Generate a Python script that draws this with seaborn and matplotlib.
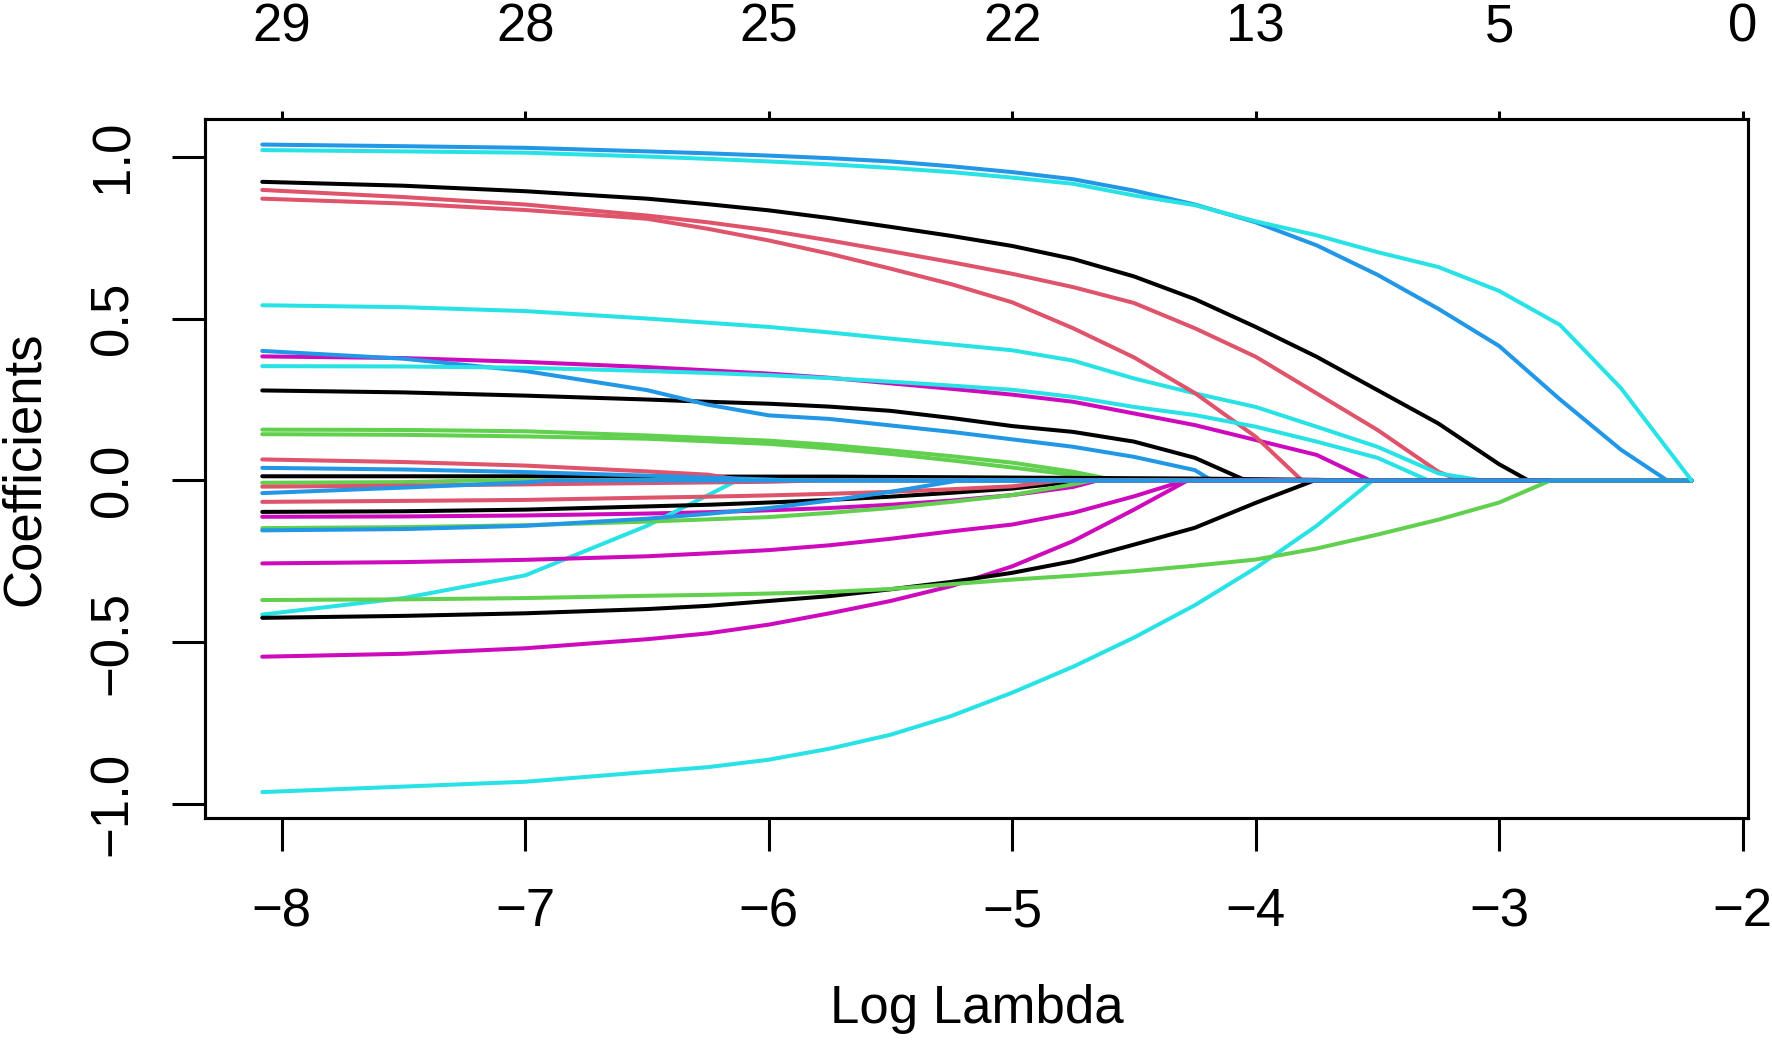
import numpy as np
import pandas as pd
import seaborn as sns
import matplotlib.pyplot as plt

grid = [-8.08, -7.5, -7.0, -6.5, -6.25, -6.0, -5.75, -5.5, -5.25, -5.0,
        -4.75, -4.5, -4.25, -4.0, -3.75, -3.5, -3.25, -3.0, -2.75, -2.5]
last_lambda = -2.21

# each path: values on the grid until the variable drops out; *_zero = where it hits 0
black_paths = [
    [0.922, 0.91, 0.893, 0.87, 0.853, 0.834, 0.81, 0.783, 0.755, 0.724,
     0.684, 0.63, 0.56, 0.474, 0.382, 0.279, 0.176, 0.05],
    [0.278, 0.272, 0.262, 0.25, 0.243, 0.237, 0.228, 0.215, 0.193, 0.168, 0.15, 0.12, 0.07],
    [0.013, 0.013, 0.013, 0.012, 0.012, 0.012, 0.012, 0.011, 0.010, 0.009,
     0.008, 0.007, 0.006, 0.004, 0.002],
    [-0.097, -0.095, -0.09, -0.08, -0.075, -0.068, -0.06, -0.05, -0.038, -0.025],
    [-0.424, -0.418, -0.41, -0.397, -0.387, -0.372, -0.357, -0.336, -0.313, -0.285,
     -0.249, -0.198, -0.146, -0.069],
]
black_zero = [-2.88, -4.04, -3.6, -4.7, -3.76]

red_paths = [
    [0.897, 0.875, 0.852, 0.818, 0.797, 0.772, 0.741, 0.708, 0.674, 0.638,
     0.597, 0.548, 0.47, 0.382, 0.269, 0.156, 0.027],
    [0.870, 0.855, 0.835, 0.808, 0.777, 0.741, 0.70, 0.654, 0.606, 0.55,
     0.47, 0.38, 0.27, 0.135],
    [0.065, 0.057, 0.046, 0.028, 0.018],
    [-0.019, -0.016, -0.012, -0.008, -0.006, -0.004],
    [-0.066, -0.063, -0.06, -0.053, -0.05, -0.046, -0.041, -0.035, -0.027, -0.018],
]
red_zero = [-3.16, -3.81, -6.1, -5.8, -4.8]

green_paths = [
    [0.157, 0.156, 0.152, 0.139, 0.131, 0.123, 0.11, 0.093, 0.075, 0.055, 0.027],
    [0.143, 0.141, 0.136, 0.129, 0.121, 0.113, 0.099, 0.082, 0.062, 0.04, 0.017],
    [-0.007, -0.005],
    [-0.147, -0.144, -0.138, -0.127, -0.12, -0.113, -0.1, -0.085, -0.066, -0.045, -0.012],
    [-0.369, -0.367, -0.363, -0.356, -0.353, -0.349, -0.344, -0.335, -0.32, -0.306,
     -0.294, -0.28, -0.263, -0.244, -0.21, -0.167, -0.121, -0.068],
]
green_zero = [-4.57, -4.66, -7.2, -4.67, -2.79]

blue_paths = [
    [1.037, 1.032, 1.027, 1.016, 1.01, 1.003, 0.995, 0.985, 0.97, 0.952,
     0.93, 0.895, 0.852, 0.797, 0.726, 0.635, 0.53, 0.415, 0.25, 0.095],
    [0.400, 0.376, 0.338, 0.279, 0.234, 0.201, 0.19, 0.17, 0.15, 0.127, 0.104, 0.073, 0.032],
    [0.039, 0.034, 0.026, 0.015, 0.009, 0.003],
    [-0.039, -0.022, -0.006],
    [-0.154, -0.15, -0.14, -0.118, -0.103, -0.085, -0.062, -0.035],
]
blue_zero = [-2.31, -4.18, -5.9, -6.9, -5.22]

cyan_paths = [
    [0.541, 0.535, 0.523, 0.50, 0.487, 0.474, 0.457, 0.438, 0.42, 0.402,
     0.37, 0.315, 0.269, 0.227, 0.166, 0.104, 0.022],
    [0.353, 0.352, 0.348, 0.338, 0.332, 0.325, 0.316, 0.305, 0.293, 0.28,
     0.258, 0.227, 0.202, 0.166, 0.12, 0.07],
    [-0.414, -0.363, -0.293, -0.14],
    [-0.962, -0.945, -0.93, -0.9, -0.885, -0.862, -0.828, -0.785, -0.727, -0.655,
     -0.575, -0.485, -0.385, -0.27, -0.14],
    [1.02, 1.016, 1.012, 1.0, 0.993, 0.985, 0.976, 0.965, 0.952, 0.935,
     0.916, 0.88, 0.85, 0.80, 0.757, 0.705, 0.659, 0.585, 0.48, 0.285],
]
cyan_zero = [-3.07, -3.29, -6.13, -3.52, -2.21]

magenta_paths = [
    [0.383, 0.378, 0.366, 0.35, 0.34, 0.33, 0.317, 0.30, 0.283, 0.265,
     0.243, 0.207, 0.171, 0.125, 0.079],
    [-0.112, -0.111, -0.108, -0.102, -0.098, -0.092, -0.085, -0.075, -0.062, -0.045, -0.02],
    [-0.256, -0.252, -0.245, -0.234, -0.225, -0.215, -0.2, -0.18, -0.157, -0.136, -0.10, -0.049],
    [-0.544, -0.535, -0.518, -0.49, -0.472, -0.445, -0.41, -0.372, -0.326, -0.265, -0.187, -0.09],
]
magenta_zero = [-3.53, -4.65, -4.29, -4.28]

top_ticks = [-8, -7, -6, -5, -4, -3, -2]
df_labels = ['29', '28', '25', '22', '13', '5', '0']
y_ticks = [-1.0, -0.5, 0.0, 0.5, 1.0]
y_labels = ['\u22121.0', '\u22120.5', '0.0', '0.5', '1.0']

colors = {'black': '#000000', 'red': '#DF536B', 'green': '#61D04F',
          'blue': '#2297E6', 'cyan': '#28E2E5', 'magenta': '#CD0BBC'}
groups = {'black': (black_paths, black_zero), 'red': (red_paths, red_zero),
          'green': (green_paths, green_zero), 'blue': (blue_paths, blue_zero),
          'cyan': (cyan_paths, cyan_zero), 'magenta': (magenta_paths, magenta_zero)}

# long table in R's colour-cycle order (var 1 black, 2 red, ... 29 cyan)
rows = []
palette = {}
n = 0
for k in range(5):
    for cname in ['black', 'red', 'green', 'blue', 'cyan', 'magenta']:
        paths, zeros = groups[cname]
        if k >= len(paths):
            continue
        n += 1
        name = 'V%d' % n
        palette[name] = colors[cname]
        for g, v in zip(grid, paths[k]):
            rows.append((name, g, v))
        rows.append((name, zeros[k], 0.0))
        if zeros[k] < last_lambda:
            rows.append((name, last_lambda, 0.0))
df = pd.DataFrame(rows, columns=['var', 'log_lambda', 'coef'])

sns.set_theme(style='white')
plt.rcParams['font.family'] = ['Liberation Sans', 'DejaVu Sans']

fig = plt.figure(figsize=(17.72, 10.41), dpi=100)
ax = fig.add_axes([0.1157, 0.2142, 0.8708, 0.6715])

sns.lineplot(data=df, x='log_lambda', y='coef', hue='var', palette=palette,
             hue_order=list(palette.keys()), estimator=None, sort=False,
             legend=False, linewidth=2.9, ax=ax)

ax.set_xlim(-8.315, -1.978)
ax.set_ylim(-1.042, 1.116)
ax.set_xticks(top_ticks)
ax.set_xticklabels(['\u2212%d' % abs(t) for t in top_ticks])
ax.set_yticks(y_ticks)
ax.set_yticklabels(y_labels, rotation=90, va='center')

fs = 38
for s in ax.spines.values():
    s.set_visible(True)
    s.set_color('black')
    s.set_linewidth(2.2)
ax.tick_params(axis='both', direction='out', length=24, width=2.2, color='black',
               labelsize=fs, labelcolor='black')
ax.tick_params(axis='x', pad=26)
ax.tick_params(axis='y', pad=24)
ax.tick_params(bottom=True, left=True)

ax.set_xlabel('Log Lambda', fontsize=fs, color='black')
ax.set_ylabel('Coefficients', fontsize=fs, color='black')
ax.xaxis.set_label_coords(0.5, -0.273)
ax.xaxis.label.set_verticalalignment('center')
ax.yaxis.set_label_coords(-0.1167, 0.5)
ax.yaxis.label.set_verticalalignment('center')

ax2 = ax.twiny()
ax2.set_xlim(ax.get_xlim())
ax2.set_xticks(top_ticks)
ax2.set_xticklabels(df_labels)
ax2.tick_params(axis='x', direction='out', length=6, width=2.2, color='black',
                labelsize=fs, labelcolor='black', pad=42, top=True)
for s in ax2.spines.values():
    s.set_linewidth(2.2)
    s.set_color('black')

fig.savefig('out.png', dpi=100)
